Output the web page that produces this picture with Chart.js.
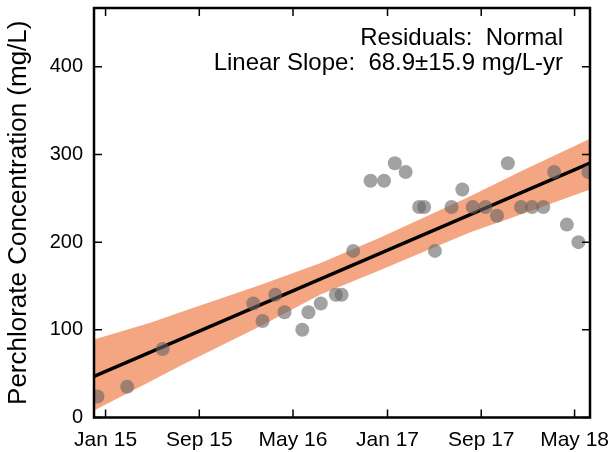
<!DOCTYPE html>
<html>
<head>
<meta charset="utf-8">
<script src="https://cdn.jsdelivr.net/npm/chart.js@4/dist/chart.umd.min.js"></script>
<style>
  body { margin: 0; background: #fff; }
  canvas { display: block; }
</style>
</head>
<body>
<canvas id="chart" width="611" height="452"></canvas>
<script>
// sample dates and perchlorate values (mg/L)
const sampleDates = [
  "2014-12-11", "2015-02-26", "2015-05-29", "2016-01-19", "2016-02-12",
  "2016-03-16", "2016-04-09", "2016-05-25", "2016-06-10", "2016-07-12",
  "2016-08-20", "2016-09-04", "2016-10-04", "2016-11-18", "2016-12-23",
  "2017-01-20", "2017-02-17", "2017-03-24", "2017-04-06", "2017-05-04",
  "2017-06-16", "2017-07-14", "2017-08-10", "2017-09-12", "2017-10-12",
  "2017-11-09", "2017-12-13", "2018-01-11", "2018-02-09", "2018-03-09",
  "2018-04-11", "2018-05-11", "2018-06-06"
];
const sampleValues = [
  24, 35, 78, 130, 110,
  140, 120, 100, 120, 130,
  140, 140, 190, 270, 270,
  290, 280, 240, 240, 190,
  240, 260, 240, 240, 230,
  290, 240, 240, 240, 280,
  220, 200, 280
];

// fitted trend line end points
const fitDates = ["2014-12-02", "2018-06-10"];
const fitValues = [47, 290];

// confidence band edges
const bandDates = [
  "2014-12-02", "2015-04-27", "2015-07-14", "2016-02-06", "2016-07-10",
  "2016-12-12", "2017-08-02", "2017-12-09", "2018-06-10"
];
const bandUpper = [89, 108, 120, 151, 176, 205, 252, 280, 318];
const bandLower = [8, 41, 59, 104, 140, 168, 211, 231, 260];

// axes
const xRange = ["2014-12-02", "2018-06-10"];
const xTickDates = ["2015-01-01", "2015-09-01", "2016-05-01", "2017-01-01", "2017-09-01", "2018-05-01"];
const xTickLabels = ["Jan 15", "Sep 15", "May 16", "Jan 17", "Sep 17", "May 18"];
const yTicks = [0, 100, 200, 300, 400];
const yMax = 467;

const annotation = ["Residuals:  Normal", "Linear Slope:  68.9\u00b115.9 mg/L-yr"];

const BASE = Date.UTC(2015, 0, 1);
function toDay(s) {
  const [y, m, d] = s.split("-").map(Number);
  return (Date.UTC(y, m - 1, d) - BASE) / 86400000;
}
function pairs(dates, values) {
  return dates.map((d, i) => ({ x: toDay(d), y: values[i] }));
}

const FONT = "'Liberation Sans', Arial, sans-serif";
const BAND = "#f4a582";

const frame = {
  id: "frame",
  afterDraw(chart) {
    const { ctx, chartArea: a, scales } = chart;
    const tick = 8;
    ctx.save();
    ctx.strokeStyle = "#000";
    ctx.lineWidth = 1.5;
    ctx.beginPath();
    scales.x.ticks.forEach((t) => {
      const px = scales.x.getPixelForValue(t.value);
      ctx.moveTo(px, a.bottom); ctx.lineTo(px, a.bottom - tick);
      ctx.moveTo(px, a.top); ctx.lineTo(px, a.top + tick);
    });
    scales.y.ticks.forEach((t) => {
      const py = scales.y.getPixelForValue(t.value);
      ctx.moveTo(a.left, py); ctx.lineTo(a.left + tick, py);
      ctx.moveTo(a.right, py); ctx.lineTo(a.right - tick, py);
    });
    ctx.stroke();
    ctx.lineWidth = 2.5;
    ctx.strokeRect(a.left, a.top, a.right - a.left, a.bottom - a.top);

    ctx.fillStyle = "#000";
    ctx.font = "24px " + FONT;
    ctx.textAlign = "right";
    ctx.textBaseline = "middle";
    ctx.fillText(annotation[0], a.right - 27, a.top + 30);
    ctx.fillText(annotation[1], a.right - 27, a.top + 55);
    ctx.restore();
  },
};

new Chart(document.getElementById("chart"), {
  type: "line",
  data: {
    datasets: [
      {
        label: "Samples",
        data: pairs(sampleDates, sampleValues),
        showLine: false,
        pointRadius: 7,
        pointBorderWidth: 0,
        pointBackgroundColor: "rgba(100,100,100,0.6)",
        clip: 0,
      },
      {
        label: "Trend",
        data: pairs(fitDates, fitValues),
        borderColor: "#000",
        borderWidth: 3.5,
        pointRadius: 0,
        clip: 0,
      },
      {
        label: "Upper",
        data: pairs(bandDates, bandUpper),
        borderWidth: 0,
        pointRadius: 0,
        backgroundColor: BAND,
        fill: "+1",
        clip: 0,
      },
      {
        label: "Lower",
        data: pairs(bandDates, bandLower),
        borderWidth: 0,
        pointRadius: 0,
        clip: 0,
      },
    ],
  },
  options: {
    responsive: false,
    animation: false,
    layout: { padding: { left: 0, right: 21, top: 8, bottom: 0 } },
    plugins: { legend: { display: false }, tooltip: { enabled: false } },
    scales: {
      x: {
        type: "linear",
        min: toDay(xRange[0]),
        max: toDay(xRange[1]),
        afterBuildTicks: (s) => { s.ticks = xTickDates.map((d) => ({ value: toDay(d) })); },
        afterFit: (s) => { s.height = 34.5; s.paddingLeft = 0; s.paddingRight = 0; },
        grid: { display: false, drawTicks: false },
        border: { display: false },
        ticks: {
          color: "#000",
          padding: 10,
          maxRotation: 0,
          autoSkip: false,
          font: { family: FONT, size: 21 },
          callback: (v, i) => xTickLabels[i],
        },
      },
      y: {
        min: 0,
        max: yMax,
        afterBuildTicks: (s) => { s.ticks = yTicks.map((v) => ({ value: v })); },
        afterFit: (s) => { s.width = 94; s.paddingTop = 0; s.paddingBottom = 0; },
        grid: { display: false, drawTicks: false },
        border: { display: false },
        ticks: {
          color: "#000",
          padding: 11,
          font: { family: FONT, size: 20 },
        },
        title: {
          display: true,
          text: "Perchlorate Concentration (mg/L)",
          color: "#000",
          font: { family: FONT, size: 26 },
          padding: { top: 3, bottom: 0 },
        },
      },
    },
  },
  plugins: [frame],
});
</script>
</body>
</html>
